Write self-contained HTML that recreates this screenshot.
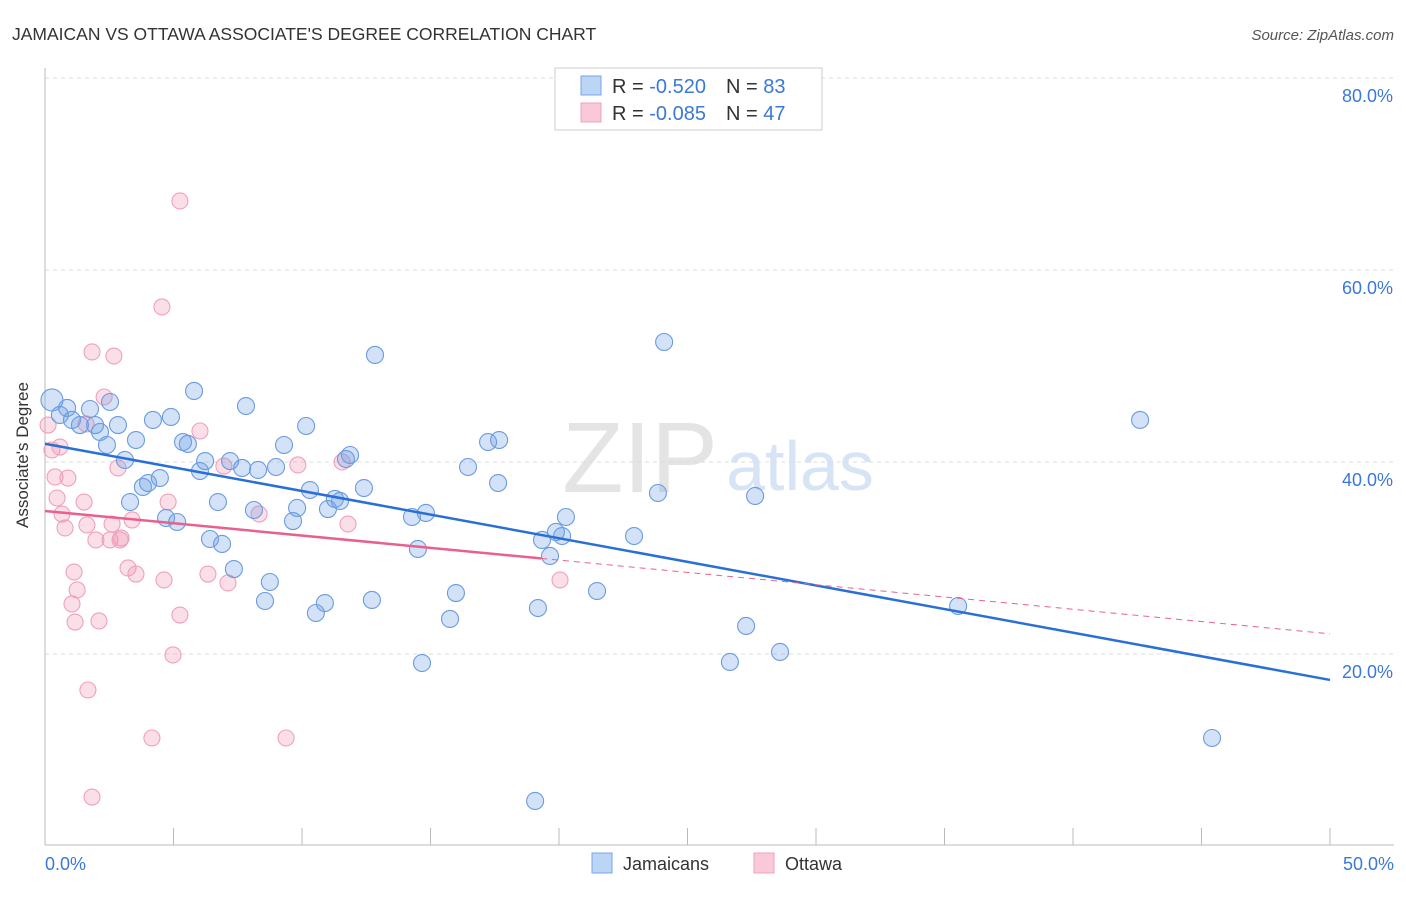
<!DOCTYPE html>
<html><head><meta charset="utf-8"><style>
body{margin:0;background:#fff;font-family:"Liberation Sans",sans-serif}
svg text{font-family:"Liberation Sans",sans-serif}
</style></head><body>
<svg width="1406" height="892">
<text x="12" y="40" font-size="17.5" fill="#333">JAMAICAN VS OTTAWA ASSOCIATE'S DEGREE CORRELATION CHART</text>
<text x="1394" y="40" font-size="15" fill="#555" text-anchor="end" font-style="italic">Source: ZipAtlas.com</text>
<text x="640" y="492" font-size="100" fill="#e4e4e4" font-family="Liberation Serif" text-anchor="middle">ZIP</text>
<text x="800" y="490" font-size="70" fill="#d6e4f5" text-anchor="middle">atlas</text>
<g id="grid"></g>
<line x1="45" y1="68" x2="45" y2="845" stroke="#bbb"/>
<line x1="45" y1="845" x2="1394" y2="845" stroke="#bbb"/>
<text x="28" y="455" font-size="17" fill="#333" text-anchor="middle" transform="rotate(-90 28 455)">Associate's Degree</text>
<text x="45" y="870" font-size="18" fill="#3b78d8">0.0%</text>
<text x="1394" y="870" font-size="18" fill="#3b78d8" text-anchor="end">50.0%</text>
<g id="pts"></g>
<g id="trend"></g>
<rect x="555" y="68" width="267" height="62" fill="#fff" stroke="#ccc"/>
<rect x="581" y="76" width="20" height="19" fill="#bcd4f5" stroke="#7aa6e6"/>
<rect x="581" y="103" width="20" height="19" fill="#f9c9d8" stroke="#f0a0bc"/>
<text x="612" y="93" font-size="20" fill="#333">R = <tspan fill="#3b78d8">-0.520</tspan><tspan dx="20">N = </tspan><tspan fill="#3b78d8">83</tspan></text>
<text x="612" y="120" font-size="20" fill="#333">R = <tspan fill="#3b78d8">-0.085</tspan><tspan dx="20">N = </tspan><tspan fill="#3b78d8">47</tspan></text>
<rect x="592" y="853" width="20" height="20" fill="#bcd4f5" stroke="#7aa6e6"/>
<text x="623" y="870" font-size="18" fill="#333">Jamaicans</text>
<rect x="754" y="853" width="20" height="20" fill="#f9c9d8" stroke="#f0a0bc"/>
<text x="785" y="870" font-size="18" fill="#333">Ottawa</text>
</svg>
<script>
const yTicks=[20,40,60,80];
const xTicks=[0,5,10,15,20,25,30,35,40,45,50];
const bluePx=[[52,400],[60,415],[67,408],[72,420],[80,425],[90,409],[95,425],[100,432],[107,445],[110,402],[118,425],[125,460],[130,502],[136,440],[143,487],[148,483],[153,420],[160,478],[166,518],[171,417],[177,522],[183,442],[188,444],[194,391],[200,471],[205,461],[210,539],[218,502],[222,544],[230,461],[234,569],[242,468],[246,406],[254,510],[258,470],[265,601],[270,582],[276,467],[284,445],[293,521],[297,508],[306,426],[310,490],[316,613],[325,603],[328,509],[335,499],[340,501],[346,459],[350,455],[364,488],[372,600],[375,355],[412,517],[418,549],[422,663],[426,513],[450,619],[456,593],[468,467],[488,442],[499,440],[498,483],[538,608],[535,801],[542,540],[550,556],[556,532],[562,536],[566,517],[597,591],[634,536],[658,493],[664,342],[730,662],[746,626],[755,496],[780,652],[958,606],[1140,420],[1212,738]];
const pinkPx=[[48,425],[52,450],[55,477],[57,498],[62,514],[60,447],[65,528],[68,478],[72,604],[74,572],[75,622],[77,590],[84,502],[86,424],[87,525],[88,690],[92,352],[96,540],[99,621],[104,397],[110,540],[114,356],[118,468],[121,538],[128,568],[132,520],[136,574],[152,738],[164,580],[162,307],[168,502],[173,655],[180,201],[180,615],[200,431],[208,574],[224,466],[228,583],[259,514],[286,738],[298,465],[342,462],[348,524],[560,580],[92,797],[120,540],[112,524]];
const blueX=bluePx.map(p=>+((p[0]-45)/25.7).toFixed(2));
const blueY=bluePx.map(p=>+(20+(654-p[1])/9.6).toFixed(2));
const pinkX=pinkPx.map(p=>+((p[0]-45)/25.7).toFixed(2));
const pinkY=pinkPx.map(p=>+(20+(654-p[1])/9.6).toFixed(2));
const blueTrend=[41.9,17.3];
const pinkTrend=[34.9,22.1];
const pinkSolidEnd=19.3;
const X=v=>45+v*25.7, Y=v=>654-(v-20)*9.6;
const NS='http://www.w3.org/2000/svg';
function mk(t,a,p){const e=document.createElementNS(NS,t);for(const k in a)e.setAttribute(k,a[k]);p.appendChild(e);return e;}
const grid=document.getElementById('grid');
yTicks.forEach(t=>{
 const l=mk('line',{x1:45,x2:1394,y1:Y(t),y2:Y(t),stroke:'#ddd','stroke-dasharray':'4 4'},grid);
 
 
 const tx=mk('text',{x:1393,y:Y(t)+24,'font-size':18,fill:'#3b78d8','text-anchor':'end'},grid);
 tx.textContent=t.toFixed(1)+'%';
 
 
});
xTicks.forEach(t=>{
 const l=mk('line',{x1:X(t),x2:X(t),y1:828,y2:845,stroke:'#bbb'},grid);
 
 
});
const pts=document.getElementById('pts');
pinkX.forEach((x,i)=>{
 const c=mk('circle',{cx:X(x),cy:Y(pinkY[i]),r:8,fill:'rgba(240,150,180,0.3)',stroke:'#f0a0bc','stroke-width':1.1},pts);
 
 
});
blueX.forEach((x,i)=>{
 const c=mk('circle',{cx:X(x),cy:Y(blueY[i]),r:i==0?11:8.5,fill:'rgba(110,160,230,0.3)',stroke:'#6a9be0','stroke-width':1.1},pts);
 
 
});
const tr=document.getElementById('trend');
const b=mk('line',{x1:X(0),y1:Y(blueTrend[0]),x2:X(50),y2:Y(blueTrend[1]),stroke:'#2a6fd6','stroke-width':2.5},tr);


const py=x=>pinkTrend[0]+(pinkTrend[1]-pinkTrend[0])*x/50;
const p1=mk('line',{x1:X(0),y1:Y(py(0)),x2:X(pinkSolidEnd),y2:Y(py(pinkSolidEnd)),stroke:'#e8608e','stroke-width':2.5},tr);


const p2=mk('line',{x1:X(pinkSolidEnd),y1:Y(py(pinkSolidEnd)),x2:X(50),y2:Y(py(50)),stroke:'#e8608e','stroke-width':1,'stroke-dasharray':'6 5'},tr);


</script>
</body></html>
